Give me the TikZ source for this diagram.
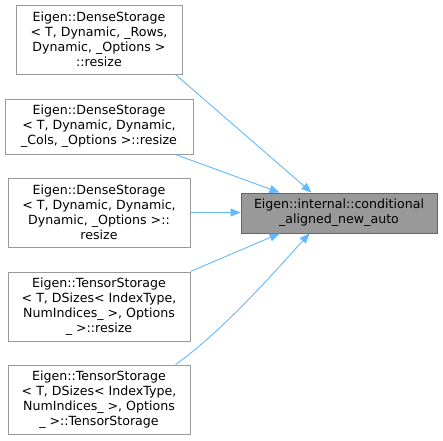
\documentclass[tikz,border=0pt]{standalone}
\usepackage{fontspec}
\setmainfont{DejaVu Sans}
\usetikzlibrary{positioning,arrows.meta}
\definecolor{EdgeBlue}{HTML}{63B8FF}
\definecolor{BoxGray}{HTML}{999999}
\definecolor{FocusGray}{HTML}{999999}
\definecolor{FocusLine}{HTML}{666666}

\begin{document}
\begin{tikzpicture}[
  x=1pt,y=-1pt,
  caller/.style={draw=BoxGray,fill=white,line width=1pt,align=center,
                 inner sep=0pt,font=\fontsize{12.6}{15}\selectfont},
  focus/.style={draw=FocusLine,fill=FocusGray,line width=1pt,align=center,
                inner sep=0pt,minimum width=196pt,minimum height=40pt,
                font=\fontsize{12.6}{15}\selectfont},
  call/.style={-{Triangle[length=10pt,width=8pt]},draw=EdgeBlue,line width=0.9pt}
]
\useasboundingbox (0,0) rectangle (443,440);

% callers on the left
\node[caller,minimum width=166pt,minimum height=69pt] (rowsresize) at (99,39.5)
  {Eigen::DenseStorage\\< T, Dynamic, \_Rows,\\Dynamic, \_Options >\\::resize};
\node[caller,minimum width=188pt,minimum height=55pt] (colsresize) at (99,126.5)
  {Eigen::DenseStorage\\< T, Dynamic, Dynamic,\\\_Cols, \_Options >::resize};
\node[caller,minimum width=182pt,minimum height=69pt] (dynresize) at (99,212.5)
  {Eigen::DenseStorage\\< T, Dynamic, Dynamic,\\Dynamic, \_Options >::\\resize};
\node[caller,minimum width=182pt,minimum height=69pt] (tensorresize) at (99,306.5)
  {Eigen::TensorStorage\\< T, DSizes< IndexType,\\NumIndices\_ >, Options\\\_ >::resize};
\node[caller,minimum width=182pt,minimum height=69pt] (tensorctor) at (99,399.5)
  {Eigen::TensorStorage\\< T, DSizes< IndexType,\\NumIndices\_ >, Options\\\_ >::TensorStorage};

% called function
\node[focus] (condnew) at (339,213)
  {Eigen::internal::conditional\\\_aligned\_new\_auto};

\draw[call] ([xshift=-7pt]rowsresize.south east) -- ([xshift=71pt]condnew.north west);
\draw[call] ([xshift=-18pt]colsresize.south east) -- ([xshift=39pt]condnew.north west);
\draw[call] (dynresize.east) -- (dynresize.east -| condnew.west);
\draw[call] (tensorresize.north east) -- ([xshift=39pt]condnew.south west);
\draw[call] ([xshift=-15pt]tensorctor.north east)
  .. controls (225,330) and (285,260) .. ([xshift=69pt]condnew.south west);
\end{tikzpicture}
\end{document}
